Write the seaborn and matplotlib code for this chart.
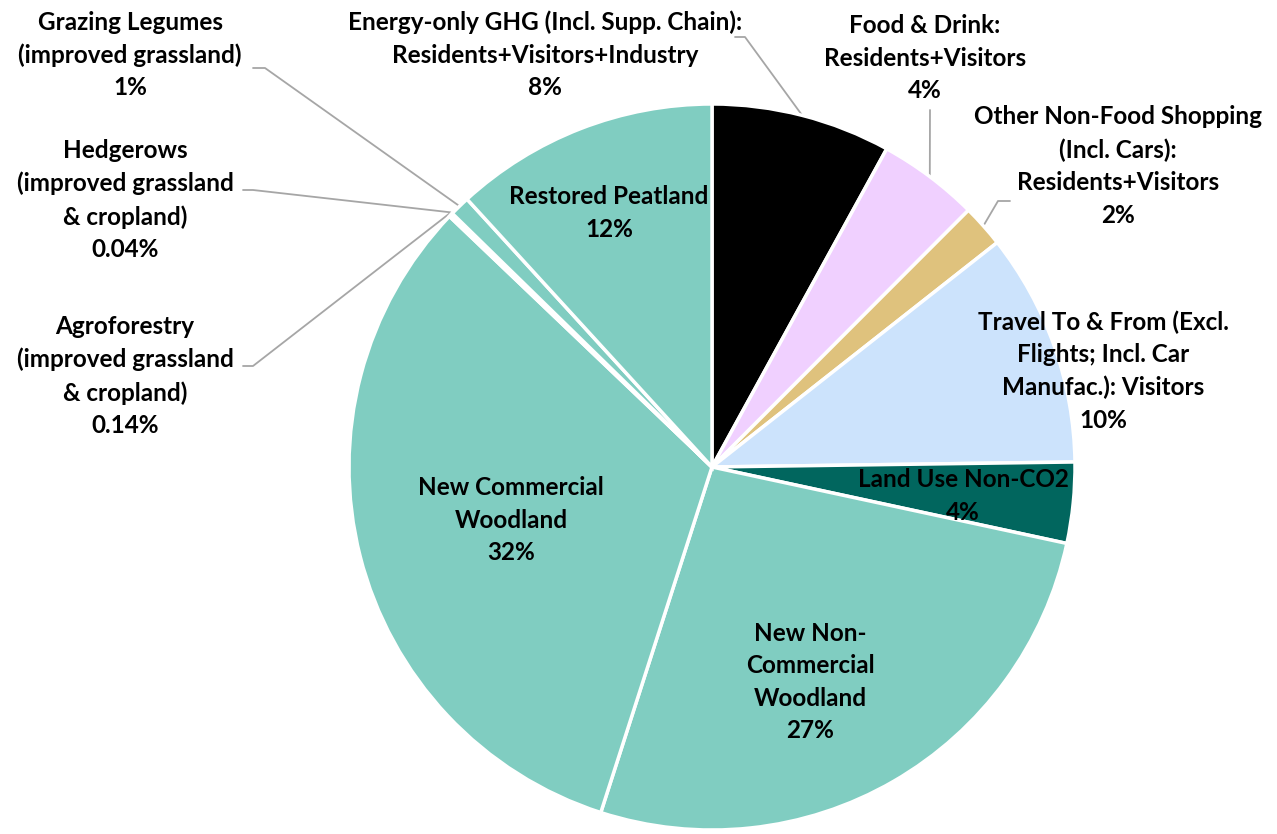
import numpy as np
import matplotlib
matplotlib.use("Agg")
import matplotlib.pyplot as plt
import seaborn as sns

# slice data, clockwise from 12 o'clock
names = [
    "Energy-only GHG (Incl. Supp. Chain):\nResidents+Visitors+Industry",
    "Food & Drink:\nResidents+Visitors",
    "Other Non-Food Shopping\n(Incl. Cars):\nResidents+Visitors",
    "Travel To & From (Excl.\nFlights; Incl. Car\nManufac.): Visitors",
    "Land Use Non-CO2",
    "New Non-\nCommercial\nWoodland",
    "New Commercial\nWoodland",
    "Agroforestry\n(improved grassland\n& cropland)",
    "Hedgerows\n(improved grassland\n& cropland)",
    "Grazing Legumes\n(improved grassland)",
    "Restored Peatland",
]
shares = [8.0, 4.5, 1.9, 10.4, 3.6, 26.6, 32.2, 0.14, 0.04, 0.9, 11.8]
pct_labels = ["8%", "4%", "2%", "10%", "4%", "27%", "32%", "0.14%", "0.04%", "1%", "12%"]
colors = ["#000000", "#F0D0FF", "#DFC27D", "#CCE3FC", "#01665E", "#80CDC1",
          "#80CDC1", "#80CDC1", "#80CDC1", "#80CDC1", "#80CDC1"]

sns.set_theme(style="white")
plt.rcParams["font.family"] = ["Lato", "DejaVu Sans"]

W, H = 1277, 834
fig = plt.figure(figsize=(W / 100, H / 100), dpi=100)
ax = fig.add_axes([0, 0, 1, 1])

def Y(y):
    return H - y

cx, cy, r = 712, Y(467), 363
wedges, _ = ax.pie(shares, colors=colors, startangle=90, counterclock=False,
                   center=(cx, cy), radius=r, frame=True,
                   wedgeprops=dict(edgecolor="white", linewidth=2.5))
ax.set_xlim(0, W)
ax.set_ylim(0, H)
ax.axis("off")

# label positions (pixel coords of text block centre), and elbow for leader lines
label_pos = {
    0: (545, 55), 1: (925, 58), 2: (1118, 166), 3: (1103, 371),
    4: (963, 496), 5: (810, 682), 6: (511, 520), 7: (125, 376),
    8: (125, 200), 9: (130, 55), 10: (609, 213),
}
elbows = {
    0: [(735, 37), (745, 37)],
    1: [(930, 110)],
    2: [(1010, 201), (998, 201)],
    9: [(253, 68), (265, 68)],
    8: [(243, 190), (253, 190)],
    7: [(243, 366), (253, 366)],
}

fs = 17.5
for i, w in enumerate(wedges):
    x, y = label_pos[i]
    ax.text(x, Y(y), names[i] + "\n" + pct_labels[i], ha="center", va="center",
            fontsize=fs, fontweight="bold", color="black", linespacing=1.5)
    if i in elbows:
        ang = np.deg2rad((w.theta1 + w.theta2) / 2)
        rr = r if i not in (7, 8) else r + 2
        ex, ey = cx + rr * np.cos(ang), cy + rr * np.sin(ang)
        pts = [(px, Y(py)) for px, py in elbows[i]] + [(ex, ey)]
        xs, ys = zip(*pts)
        ax.plot(xs, ys, color="#A6A6A6", lw=1.3, zorder=0)

fig.savefig("out.png", dpi=100)
